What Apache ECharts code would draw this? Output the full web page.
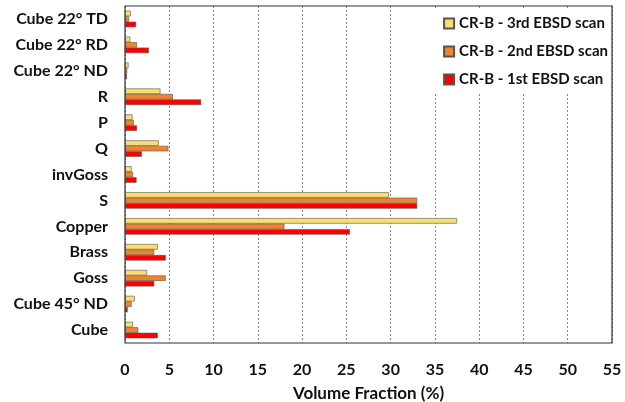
<!DOCTYPE html>
<html>
<head>
<meta charset="utf-8">
<script src="https://cdn.jsdelivr.net/npm/echarts@6/dist/echarts.min.js"></script>
<style>
  html, body { margin: 0; padding: 0; background: #fff; }
  #chart { width: 625px; height: 402px; }
</style>
</head>
<body>
<div id="chart"></div>
<script>
// categories bottom -> top
var categories = ['Cube', 'Cube 45° ND', 'Goss', 'Brass', 'Copper', 'S', 'invGoss',
  'Q', 'P', 'R', 'Cube 22° ND', 'Cube 22° RD', 'Cube 22° TD'];

var scan1 = [3.7, 0.3, 3.3, 4.6, 25.4, 33.0, 1.3, 1.9, 1.35, 8.6, 0.2, 2.7, 1.25];
var scan2 = [1.5, 0.75, 4.6, 3.3, 18.0, 33.0, 0.9, 4.9, 1.0, 5.4, 0.25, 1.35, 0.45];
var scan3 = [0.9, 1.1, 2.5, 3.7, 37.5, 29.8, 0.75, 3.8, 0.85, 4.0, 0.4, 0.6, 0.65];

var xTicks = [0, 5, 10, 15, 20, 25, 30, 35, 40, 45, 50, 55];

var font = 'Lato, "Open Sans", sans-serif';

var chart = echarts.init(document.getElementById('chart'));

function bar(name, data, color) {
  return {
    name: name,
    type: 'bar',
    data: data,
    barWidth: 5.5,
    barGap: '0%',
    itemStyle: { color: color, borderColor: '#555', borderWidth: 0.6 },
    z: 3
  };
}

chart.setOption({
  animation: false,
  textStyle: { fontFamily: font },
  grid: {
    left: 125, right: 13, top: 6, bottom: 59,
    containLabel: false, outerBoundsMode: 'none',
    show: true, borderColor: '#333', borderWidth: 1.2, backgroundColor: 'transparent', z: 4
  },
  legend: {
    data: ['CR-B - 3rd EBSD scan', 'CR-B - 2nd EBSD scan', 'CR-B - 1st EBSD scan'],
    orient: 'vertical',
    right: 15,
    top: 10,
    itemWidth: 10,
    itemHeight: 10,
    itemGap: 13,
    backgroundColor: '#fff',
    padding: [6, 2, 6, 10],
    textStyle: { fontFamily: font, fontWeight: 'bold', fontSize: 15, color: '#111' },
    icon: 'rect',
    z: 10
  },
  xAxis: {
    type: 'value',
    min: xTicks[0],
    max: xTicks[xTicks.length - 1],
    interval: 5,
    name: 'Volume Fraction (%)',
    nameLocation: 'middle',
    nameGap: 42,
    nameTextStyle: { fontFamily: font, fontWeight: 'bold', fontSize: 17, color: '#111' },
    axisLine: { show: false },
    axisTick: { show: false },
    axisLabel: { fontFamily: font, fontWeight: 'bold', fontSize: 16, color: '#111', margin: 19 },
    splitLine: { show: true, lineStyle: { color: '#888', type: [2, 2], width: 1 } }
  },
  yAxis: {
    type: 'category',
    data: categories,
    axisLine: { show: false },
    axisTick: { show: false },
    axisLabel: { fontFamily: font, fontWeight: 'bold', fontSize: 16, color: '#111', margin: 17 }
  },
  series: [
    bar('CR-B - 3rd EBSD scan', scan3, '#F9DE70'),
    bar('CR-B - 2nd EBSD scan', scan2, '#F0842E'),
    bar('CR-B - 1st EBSD scan', scan1, '#FF0000')
  ]
});
</script>
</body>
</html>
